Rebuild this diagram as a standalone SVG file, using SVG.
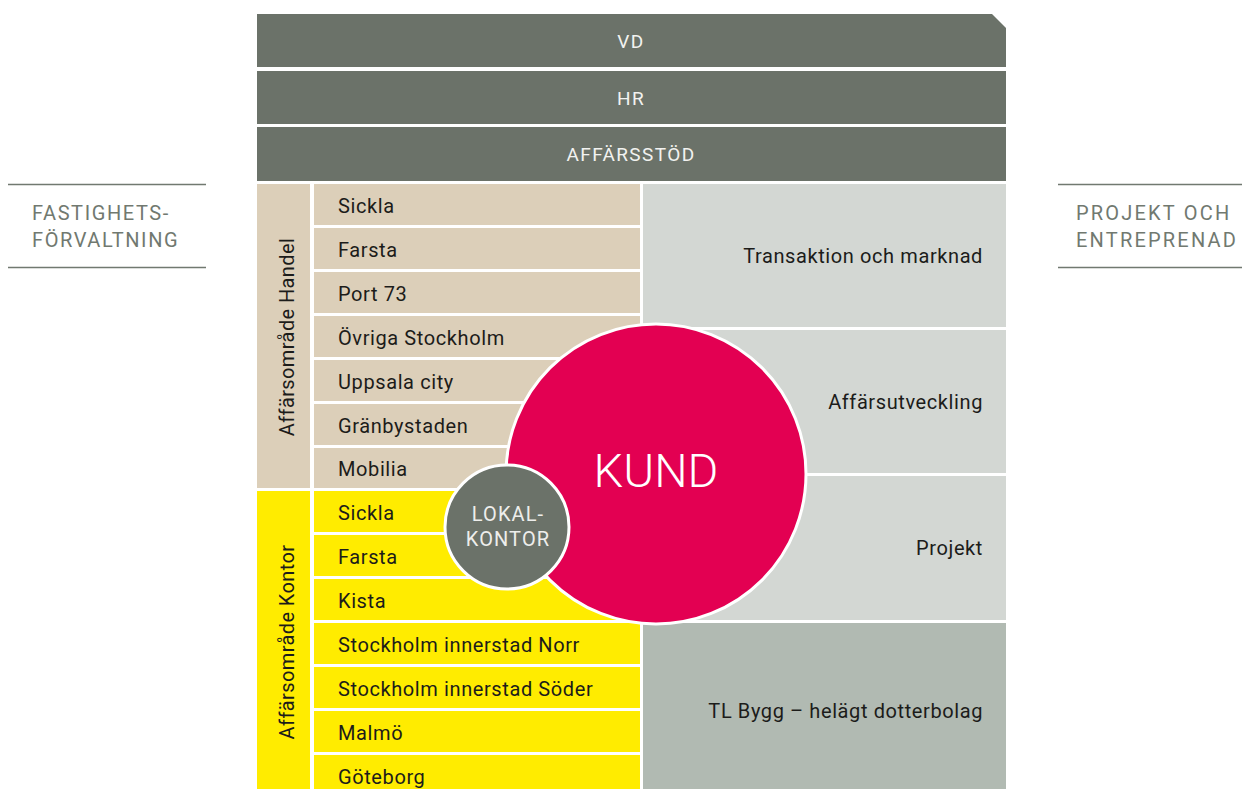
<svg xmlns="http://www.w3.org/2000/svg" width="1242" height="789" viewBox="0 0 1242 789">
  <style>
    text { font-family: Roboto, "Liberation Sans", "DejaVu Sans", sans-serif; }
    .bar { fill: #6b7269; }
    .barText { fill: #f2f2f0; font-size: 19px; letter-spacing: 1.4px; text-anchor: middle; }
    .handel { fill: #dccfb9; }
    .kontor { fill: #ffec00; }
    .light { fill: #d3d7d3; }
    .tlb { fill: #b1bab2; }
    .row { fill: #1c1c1a; font-size: 20px; letter-spacing: 0.6px; }
    .right { fill: #1c1c1a; font-size: 20px; letter-spacing: 0.6px; text-anchor: end; }
    .vert { fill: #1c1c1a; font-size: 20px; letter-spacing: 0.4px; text-anchor: middle; }
    .side { fill: #717970; font-size: 20px; letter-spacing: 1.6px; }
    .sideWide { letter-spacing: 2.2px; }
    .rule { stroke: #717970; stroke-width: 1.5; }
  </style>

  <!-- management bars -->
  <g id="vd">
    <path class="bar" d="M257 14 H992 L1006 28 V67 H257 Z"/>
    <text class="barText" x="631" y="48">VD</text>
  </g>
  <g id="hr">
    <rect class="bar" x="257" y="71" width="749" height="53"/>
    <text class="barText" x="631" y="105">HR</text>
  </g>
  <g id="affarsstod">
    <rect class="bar" x="257" y="127" width="749" height="54"/>
    <text class="barText" x="631" y="161">AFFÄRSSTÖD</text>
  </g>

  <!-- side headings -->
  <g id="fastighetsforvaltning">
    <line class="rule" x1="8" y1="184.5" x2="206" y2="184.5"/>
    <line class="rule" x1="8" y1="267.5" x2="206" y2="267.5"/>
    <text class="side" x="32" y="220">FASTIGHETS-</text>
    <text class="side" x="32" y="247">FÖRVALTNING</text>
  </g>
  <g id="projekt-entreprenad">
    <line class="rule" x1="1058" y1="184.5" x2="1242" y2="184.5"/>
    <line class="rule" x1="1058" y1="267.5" x2="1242" y2="267.5"/>
    <text class="side sideWide" x="1076" y="220">PROJEKT OCH</text>
    <text class="side sideWide" x="1076" y="247">ENTREPRENAD</text>
  </g>

  <!-- business area: retail -->
  <g id="affarsomrade-handel">
    <rect class="handel" x="257" y="184" width="53" height="304"/>
    <text class="vert" transform="translate(294 337) rotate(-90)">Affärsområde Handel</text>
    <rect class="handel" x="314" y="184" width="326" height="41"/>
    <rect class="handel" x="314" y="228" width="326" height="41"/>
    <rect class="handel" x="314" y="272" width="326" height="41"/>
    <rect class="handel" x="314" y="316" width="326" height="41"/>
    <rect class="handel" x="314" y="360" width="326" height="41"/>
    <rect class="handel" x="314" y="404" width="326" height="41"/>
    <rect class="handel" x="314" y="448" width="326" height="40"/>
    <text class="row" x="338" y="213">Sickla</text>
    <text class="row" x="338" y="257">Farsta</text>
    <text class="row" x="338" y="301">Port 73</text>
    <text class="row" x="338" y="345">Övriga Stockholm</text>
    <text class="row" x="338" y="389">Uppsala city</text>
    <text class="row" x="338" y="433">Gränbystaden</text>
    <text class="row" x="338" y="476">Mobilia</text>
  </g>

  <!-- business area: offices -->
  <g id="affarsomrade-kontor">
    <rect class="kontor" x="257" y="491" width="53" height="298"/>
    <text class="vert" transform="translate(294 642) rotate(-90)">Affärsområde Kontor</text>
    <rect class="kontor" x="314" y="491" width="326" height="41"/>
    <rect class="kontor" x="314" y="535" width="326" height="41"/>
    <rect class="kontor" x="314" y="579" width="326" height="41"/>
    <rect class="kontor" x="314" y="623" width="326" height="41"/>
    <rect class="kontor" x="314" y="667" width="326" height="41"/>
    <rect class="kontor" x="314" y="711" width="326" height="41"/>
    <rect class="kontor" x="314" y="755" width="326" height="34"/>
    <text class="row" x="338" y="520">Sickla</text>
    <text class="row" x="338" y="564">Farsta</text>
    <text class="row" x="338" y="608">Kista</text>
    <text class="row" x="338" y="652">Stockholm innerstad Norr</text>
    <text class="row" x="338" y="696">Stockholm innerstad Söder</text>
    <text class="row" x="338" y="740">Malmö</text>
    <text class="row" x="338" y="784">Göteborg</text>
  </g>

  <!-- project and construction units -->
  <g id="transaktion">
    <rect class="light" x="643" y="184" width="363" height="143"/>
    <text class="right" x="983" y="263">Transaktion och marknad</text>
  </g>
  <g id="affarsutveckling">
    <rect class="light" x="643" y="330" width="363" height="143"/>
    <text class="right" x="983" y="409">Affärsutveckling</text>
  </g>
  <g id="projekt">
    <rect class="light" x="643" y="476" width="363" height="144"/>
    <text class="right" x="983" y="555">Projekt</text>
  </g>
  <g id="tl-bygg">
    <rect class="tlb" x="643" y="623" width="363" height="166"/>
    <text class="right" x="983" y="718">TL Bygg – helägt dotterbolag</text>
  </g>

  <!-- customer core -->
  <g id="kund">
    <circle cx="656" cy="474" r="150" fill="#e30052" stroke="#ffffff" stroke-width="3"/>
    <text x="656" y="487" fill="#ffffff" font-size="47" font-weight="300" text-anchor="middle">KUND</text>
  </g>
  <g id="lokalkontor">
    <circle cx="507" cy="527" r="62" fill="#6b7269" stroke="#ffffff" stroke-width="3"/>
    <text x="508" y="521" fill="#eeeeec" font-size="20" letter-spacing="1.1" text-anchor="middle">LOKAL-</text>
    <text x="508" y="546" fill="#eeeeec" font-size="20" letter-spacing="1.1" text-anchor="middle">KONTOR</text>
  </g>

  <g id="connectors"/>
</svg>
